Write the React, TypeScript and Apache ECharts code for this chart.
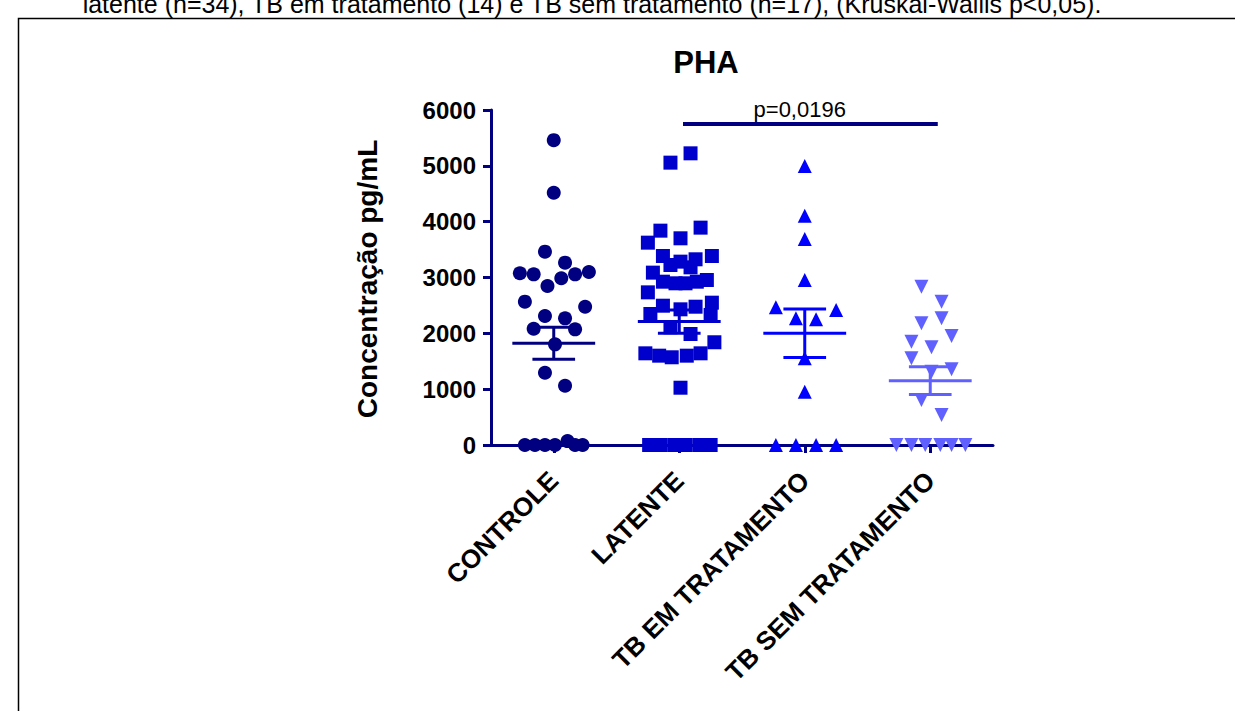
import React, { useEffect, useRef } from 'react';
import * as echarts from 'echarts';

const categories = ['CONTROLE', 'LATENTE', 'TB EM TRATAMENTO', 'TB SEM TRATAMENTO'];

const controleValues = [5460, 4519, 3463, 3266, 3075, 3057, 2986, 3057, 3099, 2848, 2567, 2477, 2311, 2269, 2083, 2072, 1803, 1295, 1062, 0, 0, 0, 0, 70, 0, 0];
const controleJitter = [0, 0, -0.07, 0.09, -0.27, -0.16, 0.06, 0.17, 0.28, -0.05, -0.23, 0.25, -0.07, 0.09, -0.16, 0.17, 0.01, -0.07, 0.09, -0.23, -0.15, -0.07, 0.01, 0.11, 0.17, 0.23];

const latenteValues = [5224, 5057, 3893, 3839, 3702, 3624, 3385, 3385, 3284, 3326, 3224, 3182, 3087, 2925, 2896, 2896, 2925, 2955, 2734, 2495, 2430, 2477, 2549, 2346, 2329, 2108, 1988, 1840, 1642, 1600, 1571, 1600, 1642, 1026, 0, 0, 0, 0, 0, 0];
const latenteJitter = [0.09, -0.07, 0.17, -0.15, 0.01, -0.25, -0.13, 0.26, 0.01, 0.13, -0.07, 0.09, -0.21, -0.13, -0.03, 0.05, 0.14, 0.22, -0.25, -0.13, 0.01, 0.13, 0.26, -0.23, 0.25, -0.07, 0.09, 0.28, -0.27, -0.16, -0.06, 0.06, 0.17, 0.01, -0.24, -0.15, -0.04, 0.05, 0.16, 0.25];

const tbEmValues = [4997, 4107, 3690, 2955, 2466, 2418, 2269, 2251, 1553, 955, 0, 0, 0, 0];
const tbEmJitter = [0, 0, 0, 0, -0.23, 0.25, -0.07, 0.09, 0, 0, -0.23, -0.07, 0.09, 0.25];

const tbSemValues = [2836, 2567, 2269, 2180, 1952, 1851, 1750, 1553, 1356, 1313, 806, 537, 0, 0, 0, 0, 0, 0];
const tbSemJitter = [-0.07, 0.09, 0.09, -0.07, 0.17, -0.15, 0.01, -0.15, 0.17, 0.01, -0.07, 0.09, -0.27, -0.15, -0.04, 0.08, 0.17, 0.28];

const meanValues = [1822, 2210, 2002, 1152];
const semValues = [285, 210, 436, 248];

// [start x, end x, y, label x]
const pBar = [[1.03, 3.06, 5750, 1.96]];
const pLabel = 'p=0,0196';

const yTicks = { min: 0, max: 6000, interval: 1000 };

const groupColors = ['#000080', '#0000CC', '#0000FF', '#6060FF'];
const navy = '#000080';
const FONT = '"Liberation Sans", Arial, Helvetica, sans-serif';

function makeScatter(values: number[], jitter: number[], gi: number, symbol: string, rotate = 0) {
  return {
    type: 'scatter',
    xAxisIndex: 1,
    yAxisIndex: 0,
    symbol,
    symbolSize: 14,
    symbolRotate: rotate,
    itemStyle: { color: groupColors[gi], opacity: 1 },
    z: 2,
    data: values.map((v, i) => [gi + jitter[i], v]),
  };
}

export default function App() {
  const ref = useRef<HTMLDivElement>(null);
  useEffect(() => {
    const chart = echarts.init(ref.current!, null, { renderer: 'svg' });
    const option: any = {
      animation: false,
      backgroundColor: '#fff',
      grid: { left: 491, top: 110, width: 502, height: 335, containLabel: false },
      xAxis: [
        {
          type: 'category',
          data: categories,
          boundaryGap: true,
          axisLine: { show: true, onZero: false, lineStyle: { color: navy, width: 3 } },
          axisTick: { show: true, alignWithLabel: true, length: 8, lineStyle: { color: navy, width: 3 } },
          axisLabel: { rotate: 45, interval: 0, margin: 31, fontWeight: 'bold', fontSize: 26, color: '#000', fontFamily: FONT },
          splitLine: { show: false },
        },
        { type: 'value', min: -0.5, max: 3.5, show: false },
      ],
      yAxis: {
        type: 'value',
        min: yTicks.min,
        max: yTicks.max,
        interval: yTicks.interval,
        axisLine: { show: true, onZero: false, lineStyle: { color: navy, width: 3 } },
        axisTick: { show: true, length: 8, lineStyle: { color: navy, width: 3 } },
        axisLabel: {
          fontWeight: 'bold',
          fontSize: 24,
          margin: 15,
          color: '#000',
          fontFamily: FONT,
          formatter: (v: number) => String(v),
        },
        splitLine: { show: false },
      },
      graphic: [
        {
          type: 'rect',
          shape: { x: 18.5, y: 18.5, width: 1400, height: 900 },
          style: { fill: 'none', stroke: '#000', lineWidth: 1.5 },
          silent: true,
        },
        {
          type: 'text',
          x: 592,
          y: 4,
          style: {
            text: 'latente (n=34), TB em tratamento (14) e TB sem tratamento (n=17), (Kruskal-Wallis p<0,05).',
            font: `25px ${FONT}`,
            fill: '#000',
            align: 'center',
            verticalAlign: 'middle',
            textAlign: 'center',
            textVerticalAlign: 'middle',
          },
        },
        {
          type: 'text',
          x: 706,
          y: 62,
          style: {
            text: 'PHA',
            font: `bold 31px ${FONT}`,
            fill: '#000',
            align: 'center',
            verticalAlign: 'middle',
            textAlign: 'center',
            textVerticalAlign: 'middle',
          },
        },
        {
          type: 'text',
          x: 367,
          y: 279,
          rotation: Math.PI / 2,
          style: {
            text: 'Concentração pg/mL',
            font: `bold 28px ${FONT}`,
            fill: '#000',
            align: 'center',
            verticalAlign: 'middle',
            textAlign: 'center',
            textVerticalAlign: 'middle',
          },
        },
      ],
      series: [
        makeScatter(controleValues, controleJitter, 0, 'circle'),
        makeScatter(latenteValues, latenteJitter, 1, 'rect'),
        makeScatter(tbEmValues, tbEmJitter, 2, 'triangle'),
        makeScatter(tbSemValues, tbSemJitter, 3, 'triangle', 180),
        {
          type: 'custom',
          xAxisIndex: 1,
          yAxisIndex: 0,
          z: 5,
          encode: { x: 0, y: 1 },
          data: meanValues.map((m, i) => [i, m, semValues[i]]),
          renderItem: (params: any, api: any) => {
            const x = api.value(0);
            const m = api.value(1);
            const s = api.value(2);
            const c = api.coord([x, m]);
            const hi = api.coord([x, m + s]);
            const lo = api.coord([x, m - s]);
            const w = api.size([1, 0])[0];
            const st = { stroke: groupColors[params.dataIndex], lineWidth: 3 };
            return {
              type: 'group',
              children: [
                { type: 'line', shape: { x1: c[0] - 0.33 * w, y1: c[1], x2: c[0] + 0.33 * w, y2: c[1] }, style: st },
                { type: 'line', shape: { x1: c[0], y1: hi[1], x2: c[0], y2: lo[1] }, style: st },
                { type: 'line', shape: { x1: c[0] - 0.17 * w, y1: hi[1], x2: c[0] + 0.17 * w, y2: hi[1] }, style: st },
                { type: 'line', shape: { x1: c[0] - 0.17 * w, y1: lo[1], x2: c[0] + 0.17 * w, y2: lo[1] }, style: st },
              ],
            };
          },
        },
        {
          type: 'custom',
          xAxisIndex: 1,
          yAxisIndex: 0,
          z: 5,
          encode: { x: [0, 1], y: 2 },
          data: pBar,
          renderItem: (params: any, api: any) => {
            const a = api.coord([api.value(0), api.value(2)]);
            const b = api.coord([api.value(1), api.value(2)]);
            const t = api.coord([api.value(3), api.value(2)]);
            return {
              type: 'group',
              children: [
                { type: 'line', shape: { x1: a[0], y1: a[1], x2: b[0], y2: b[1] }, style: { stroke: navy, lineWidth: 4 } },
                {
                  type: 'text',
                  x: t[0],
                  y: a[1] - 3,
                  style: {
                    text: pLabel,
                    font: `22px ${FONT}`,
                    fill: '#000',
                    align: 'center',
                    verticalAlign: 'bottom',
                    textAlign: 'center',
                    textVerticalAlign: 'bottom',
                  },
                },
              ],
            };
          },
        },
      ],
    };
    chart.setOption(option);
    return () => chart.dispose();
  }, []);
  return (
    <div
      ref={ref}
      style={{ position: 'absolute', left: 0, top: 0, width: 1235, height: 711, background: '#fff' }}
    />
  );
}
